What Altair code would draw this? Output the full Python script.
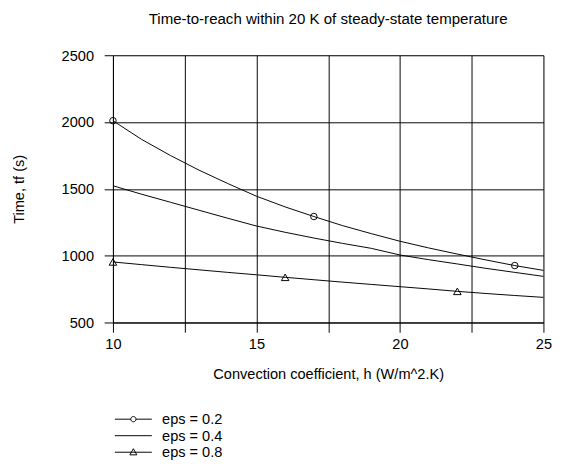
import altair as alt
import pandas as pd

h = list(range(10, 26))
eps02 = [2010, 1870, 1750, 1640, 1540, 1445, 1365, 1293, 1225, 1165, 1108, 1058, 1012, 968, 926, 890]
eps04 = [1523, 1460, 1400, 1340, 1280, 1222, 1175, 1132, 1092, 1055, 1005, 970, 938, 905, 875, 845]
eps08 = [953, 933, 913, 894, 875, 857, 838, 820, 802, 785, 768, 751, 733, 717, 702, 688]

series_names = ["eps = 0.2", "eps = 0.4", "eps = 0.8"]
circle_h = [10, 17, 24]
triangle_h = [10, 16, 22]

x_ticks = [10, 12.5, 15, 17.5, 20, 22.5, 25]
y_ticks = [500, 1000, 1500, 2000, 2500]

rows = []
for name, vals in zip(series_names, [eps02, eps04, eps08]):
    for hv, tv in zip(h, vals):
        rows.append({"h": hv, "t": tv, "series": name})
df = pd.DataFrame(rows)
df_circ = df[(df.series == "eps = 0.2") & (df.h.isin(circle_h))]
df_tri = df[(df.series == "eps = 0.8") & (df.h.isin(triangle_h))]

FONT = "Liberation Sans"
FS = 15

xenc = alt.X("h:Q", scale=alt.Scale(domain=[10, 25], nice=False, zero=False),
             axis=alt.Axis(values=x_ticks, title="Convection coefficient, h (W/m^2.K)",
                           labelExpr="datum.value % 5 == 0 ? datum.label : ''",
                           tickSize=10, labelPadding=5, titlePadding=16,
                           grid=True, gridColor="black", domainColor="black",
                           tickColor="black", labelFontSize=FS, titleFontSize=FS,
                           labelFont=FONT, titleFont=FONT, titleFontWeight="normal",
                           labelColor="black", titleColor="black", labelFlush=False))
yenc = alt.Y("t:Q", scale=alt.Scale(domain=[500, 2500], nice=False, zero=False),
             axis=alt.Axis(values=y_ticks, title="Time, tf (s)", format="d",
                           tickSize=9, labelPadding=11, titlePadding=36,
                           grid=True, gridColor="black", domainColor="black",
                           tickColor="black", labelFontSize=FS, titleFontSize=FS,
                           labelFont=FONT, titleFont=FONT, titleFontWeight="normal",
                           labelColor="black", titleColor="black", labelFlush=False))

lines = alt.Chart(df).mark_line(color="black", strokeWidth=1).encode(
    x=xenc, y=yenc, detail="series:N")

circles = alt.Chart(df_circ).mark_point(shape="circle", filled=False, color="black",
                                        size=45, strokeWidth=1, opacity=1).encode(x="h:Q", y="t:Q")
tris = alt.Chart(df_tri).mark_point(shape="triangle-up", filled=False, color="black",
                                    size=60, strokeWidth=1, opacity=1).encode(x="h:Q", y="t:Q")

p_circ = "M-3.17,0H-0.45M0.45,0H3.17M0.45,0A0.45,0.45,0,1,1,-0.45,0A0.45,0.45,0,1,1,0.45,0"
p_line = "M-3.17,0H3.17"
p_tri = "M-3.17,0H3.17M0,-0.6L0.6,0.45L-0.6,0.45Z"

legend_layer = alt.Chart(df).mark_point(opacity=0, filled=False).encode(
    x="h:Q", y="t:Q",
    shape=alt.Shape("series:N",
                    scale=alt.Scale(domain=series_names, range=[p_circ, p_line, p_tri]),
                    legend=alt.Legend(title=None, orient="none", legendX=13.5, legendY=367,
                                      direction="vertical", symbolSize=144,
                                      symbolStrokeColor="black", symbolStrokeWidth=1,
                                      symbolFillColor="transparent", symbolOpacity=1,
                                      labelFont=FONT, labelFontSize=FS, labelColor="black",
                                      labelOffset=22, rowPadding=1, padding=0)))

chart = alt.layer(lines, circles, tris, legend_layer).properties(
    width=443, height=275,
    title=alt.TitleParams("Time-to-reach within 20 K of steady-state temperature",
                          font=FONT, fontSize=15.5, fontWeight="normal", color="black",
                          anchor="middle", offset=22),
    autosize=alt.AutoSizeParams(type="none"),
    padding={"left": 108, "top": 42, "right": 16, "bottom": 139},
).configure_view(stroke="black", strokeWidth=1).configure(background="white")

chart.save("out.html", embed_options={"renderer": "svg", "actions": False})
